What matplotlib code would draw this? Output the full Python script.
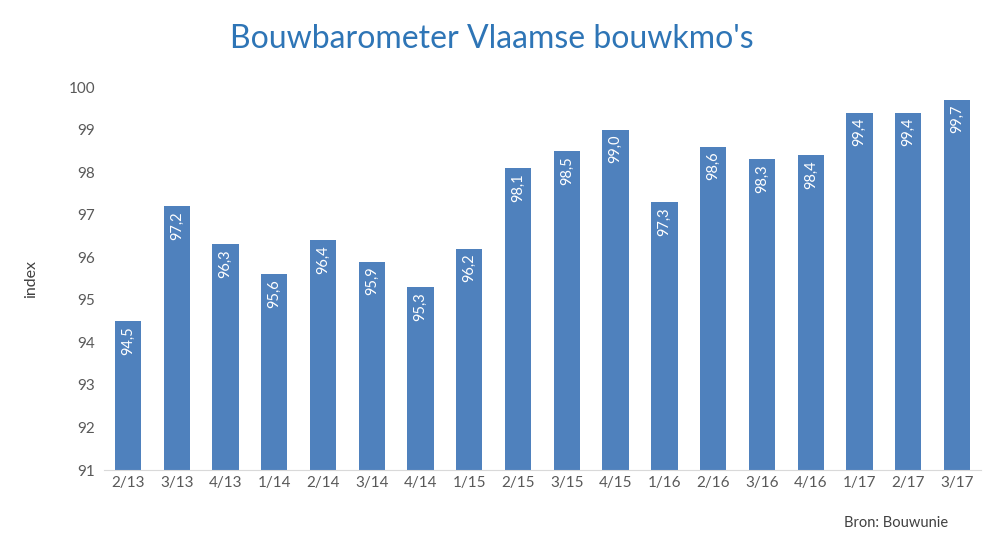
import matplotlib.pyplot as plt
import numpy as np

plt.rcParams['font.family'] = ['Lato', 'DejaVu Sans']

kwartalen = ["2/13", "3/13", "4/13", "1/14", "2/14", "3/14", "4/14", "1/15", "2/15",
             "3/15", "4/15", "1/16", "2/16", "3/16", "4/16", "1/17", "2/17", "3/17"]
index_waarden = [94.5, 97.2, 96.3, 95.6, 96.4, 95.9, 95.3, 96.2, 98.1,
                 98.5, 99.0, 97.3, 98.6, 98.3, 98.4, 99.4, 99.4, 99.7]
y_ticks = list(range(91, 101))

fig = plt.figure(figsize=(9.9, 5.51), dpi=100)
ax = fig.add_axes([0.1046, 0.147, 0.8867, 0.695])

x = np.arange(len(kwartalen))
ax.bar(x, index_waarden, width=0.54, color="#4F81BD", bottom=0)
ax.set_xlim(-0.5, len(kwartalen) - 0.5)
ax.set_ylim(91, 100)
ax.set_yticks(y_ticks)
ax.set_xticks(x)
ax.set_xticklabels(kwartalen)

for xi, v in zip(x, index_waarden):
    ax.text(xi, v - 0.12, f"{v:.1f}".replace(".", ","), rotation=90, ha="center", va="top",
            color="white", fontsize=10.5)

for s in ["top", "right", "left"]:
    ax.spines[s].set_visible(False)
ax.spines["bottom"].set_color("#D9D9D9")
ax.tick_params(axis="y", length=0, labelsize=11, colors="#595959", pad=6)
ax.tick_params(axis="x", length=0, labelsize=11, colors="#595959", pad=4)

ax.set_ylabel("index", fontsize=11.5, color="#404040", labelpad=22)

fig.text(0.497, 0.93, "Bouwbarometer Vlaamse bouwkmo's", ha="center", va="center",
         fontsize=23, color="#2E75B6")
fig.text(0.905, 0.05, "Bron: Bouwunie", ha="center", va="center", fontsize=10.5, color="#404040")

fig.savefig("out.png", dpi=100)
